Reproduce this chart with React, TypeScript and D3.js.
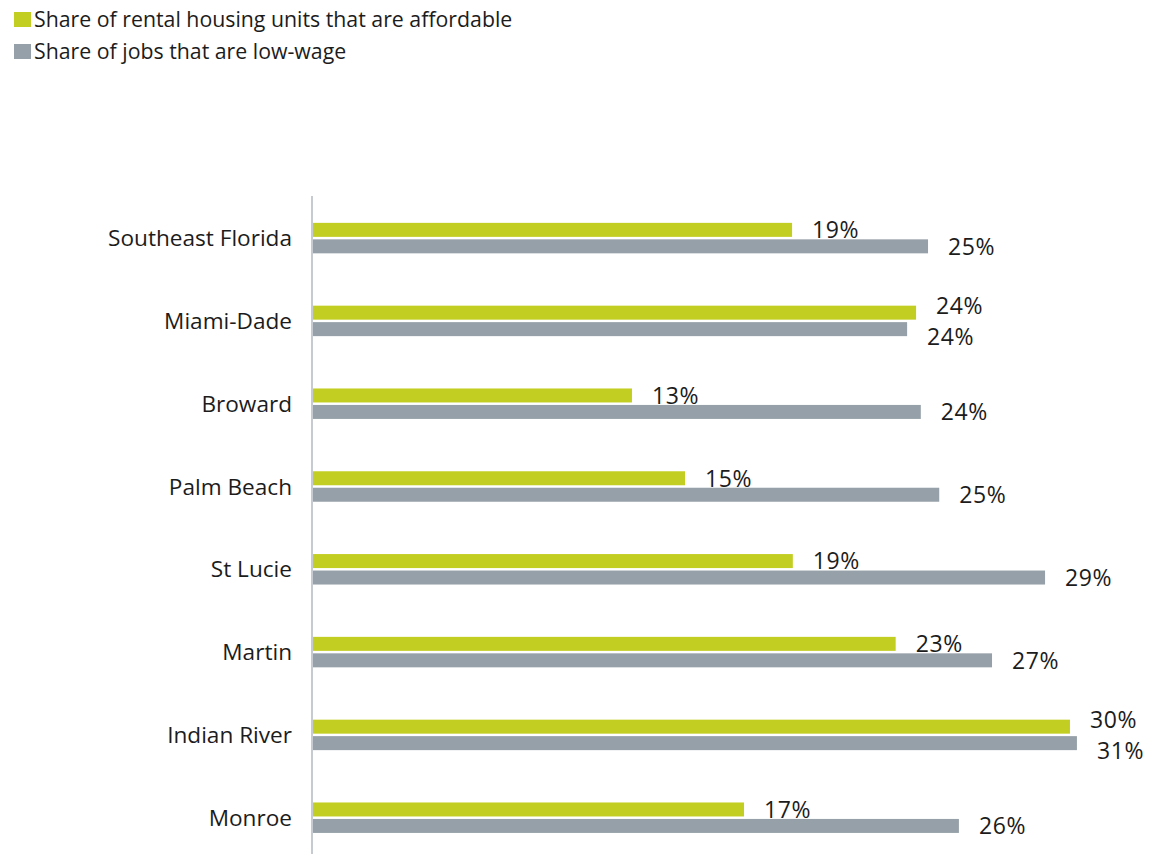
import React from "react";
import * as d3 from "d3";

const categories = [
  "Southeast Florida",
  "Miami-Dade",
  "Broward",
  "Palm Beach",
  "St Lucie",
  "Martin",
  "Indian River",
  "Monroe",
];
const affordableShare = [0.1924, 0.2422, 0.1281, 0.1494, 0.1927, 0.234, 0.304, 0.1731];
const lowWageShare = [0.247, 0.2386, 0.2441, 0.2515, 0.294, 0.2727, 0.3068, 0.2594];
const seriesKeys = ["affordable", "lowWage"];
const seriesNames = [
  "Share of rental housing units that are affordable",
  "Share of jobs that are low-wage",
];
const seriesColors = ["#C3CE23", "#96A0A8"];

const W = 1158;
const H = 854;
const FONT = "'Open Sans', sans-serif";
const TEXT = "#1c1c1c";

export default function App() {
  const x = d3.scaleLinear().domain([0, 0.35]).range([313, 313 + 0.35 * 2490]);
  const y = d3
    .scaleBand<string>()
    .domain(categories)
    .range([196.7, 859.1])
    .paddingInner(0.632)
    .paddingOuter(0.316);
  const ys = d3
    .scaleBand<string>()
    .domain(seriesKeys)
    .range([0, y.bandwidth()])
    .paddingInner(0.15);
  const fmt = d3.format(".0%");
  const values = [affordableShare, lowWageShare];
  const labelW = 48;
  const minSep = 31;

  const groups = categories.map((c, i) => {
    const bars = seriesKeys.map((k, s) => {
      const v = values[s][i];
      const by = (y(c) as number) + (ys(k) as number);
      return {
        key: k,
        s,
        v,
        x0: x(0),
        x1: x(v),
        y: by,
        h: ys.bandwidth(),
        lx: x(v) + 20,
        ly: by + ys.bandwidth() / 2,
      };
    });
    // push labels apart if they collide
    const [a, b] = bars;
    const overlapX = a.lx < b.lx + labelW && b.lx < a.lx + labelW;
    if (overlapX && b.ly - a.ly < minSep) {
      const mid = (a.ly + b.ly) / 2;
      a.ly = mid - minSep / 2;
      b.ly = mid + minSep / 2;
    }
    return { c, i, bars };
  });

  return (
    <svg width={W} height={H} style={{ position: "absolute", left: 0, top: 0 }}>
      <rect width={W} height={H} fill="#ffffff" />
      {/* legend */}
      {seriesNames.map((n, s) => (
        <g key={n}>
          <rect x={14} y={12 + s * 32} width={17} height={15} fill={seriesColors[s]} />
          <text x={34} y={27 + s * 32} fontFamily={FONT} fontSize={21.3} fill={TEXT}>
            {n}
          </text>
        </g>
      ))}
      {/* axis line */}
      <line x1={312} x2={312} y1={196} y2={H} stroke="#C5CBD0" strokeWidth={2} />
      {groups.map((g) => (
        <g key={g.c}>
          <text
            x={292}
            y={(y(g.c) as number) + y.bandwidth() / 2}
            dy="0.36em"
            textAnchor="end"
            fontFamily={FONT}
            fontSize={22.6}
            fill={TEXT}
          >
            {g.c}
          </text>
          {g.bars.map((b) => (
            <g key={b.key}>
              <rect x={b.x0} y={b.y} width={b.x1 - b.x0} height={b.h} fill={seriesColors[b.s]} />
              <text
                x={b.lx}
                y={b.ly}
                dy="0.36em"
                fontFamily={FONT}
                fontSize={23}
                letterSpacing={0.6}
                fill={TEXT}
              >
                {fmt(b.v)}
              </text>
            </g>
          ))}
        </g>
      ))}
    </svg>
  );
}
